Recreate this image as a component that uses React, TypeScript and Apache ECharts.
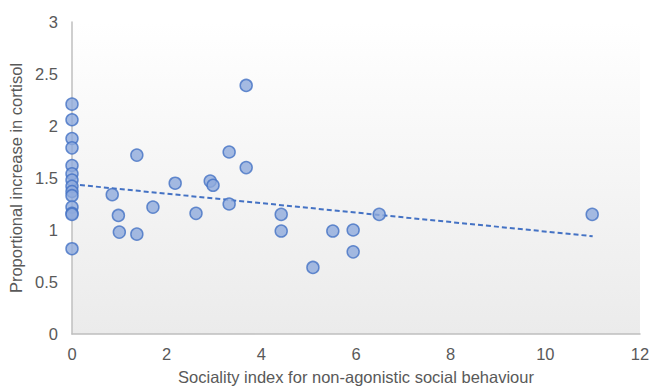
import React, { useEffect, useRef } from "react";
import * as echarts from "echarts";

const sociality: number[] = [
  0, 0, 0, 0, 0, 0, 0, 0, 0, 0, 0, 0, 0, 0,
  0.85, 0.98, 1.0, 1.37, 1.37, 1.71, 2.18, 2.62, 2.92, 2.98, 3.32, 3.32, 3.68, 3.68,
  4.42, 4.42, 5.09, 5.51, 5.94, 5.94, 6.49, 10.99,
];
const cortisol: number[] = [
  2.21, 2.06, 1.88, 1.79, 1.62, 1.54, 1.48, 1.42, 1.37, 1.33, 1.22, 1.16, 1.15, 0.82,
  1.34, 1.14, 0.98, 0.96, 1.72, 1.22, 1.45, 1.16, 1.47, 1.43, 1.75, 1.25, 2.39, 1.6,
  1.15, 0.99, 0.64, 0.99, 1.0, 0.79, 1.15, 1.15,
];
// Linear trendline endpoints
const trendX: number[] = [0, 11];
const trendY: number[] = [1.44, 0.94];
const xTicks = [0, 2, 4, 6, 8, 10, 12];
const yTicks = [0, 0.5, 1, 1.5, 2, 2.5, 3];

export default function App() {
  const ref = useRef<HTMLDivElement>(null);
  useEffect(() => {
    document.body.style.margin = "0";
    const chart = echarts.init(ref.current!, null, { renderer: "svg" });
    const pts = sociality.map((x, i) => [x, cortisol[i]]);
    const trend = trendX.map((x, i) => [x, trendY[i]]);
    const font = "'Liberation Sans', Arial, sans-serif";
    chart.setOption({
      animation: false,
      backgroundColor: "#ffffff",
      grid: {
        left: 72,
        right: 11,
        top: 22,
        bottom: 54,
        show: true,
        borderWidth: 0,
        outerBoundsMode: "none",
        containLabel: false,
        backgroundColor: new echarts.graphic.LinearGradient(0, 0, 0, 1, [
          { offset: 0, color: "#ffffff" },
          { offset: 1, color: "#ebebeb" },
        ]),
      },
      xAxis: {
        type: "value",
        min: xTicks[0],
        max: xTicks[xTicks.length - 1],
        interval: 2,
        name: "Sociality index for non-agonistic social behaviour",
        nameLocation: "middle",
        nameGap: 34,
        nameTextStyle: { color: "#595959", fontSize: 16.5, fontFamily: font },
        axisLine: { show: true, lineStyle: { color: "#bfbfbf", width: 1.5 } },
        axisTick: { show: false },
        splitLine: { show: false },
        axisLabel: { color: "#595959", fontSize: 16.5, fontFamily: font, margin: 11 },
      },
      yAxis: {
        type: "value",
        min: yTicks[0],
        max: yTicks[yTicks.length - 1],
        interval: 0.5,
        name: "Proportional increase in cortisol",
        nameLocation: "middle",
        nameGap: 46,
        nameTextStyle: { color: "#595959", fontSize: 16.5, fontFamily: font },
        axisLine: { show: true, lineStyle: { color: "#bfbfbf", width: 1.5 } },
        axisTick: { show: false },
        splitLine: { show: false },
        axisLabel: { color: "#595959", fontSize: 16.5, fontFamily: font, margin: 14 },
      },
      series: [
        {
          type: "line",
          data: trend,
          symbol: "none",
          lineStyle: { color: "#4472c4", width: 2, type: [5, 3] },
          z: 1,
        },
        {
          type: "scatter",
          data: pts,
          symbol: "circle",
          symbolSize: 12,
          itemStyle: { color: "#8faadc", borderColor: "#4472c4", borderWidth: 1.5 },
          z: 2,
        },
      ],
    });
    return () => chart.dispose();
  }, []);
  return <div ref={ref} style={{ width: 651, height: 388 }} />;
}
